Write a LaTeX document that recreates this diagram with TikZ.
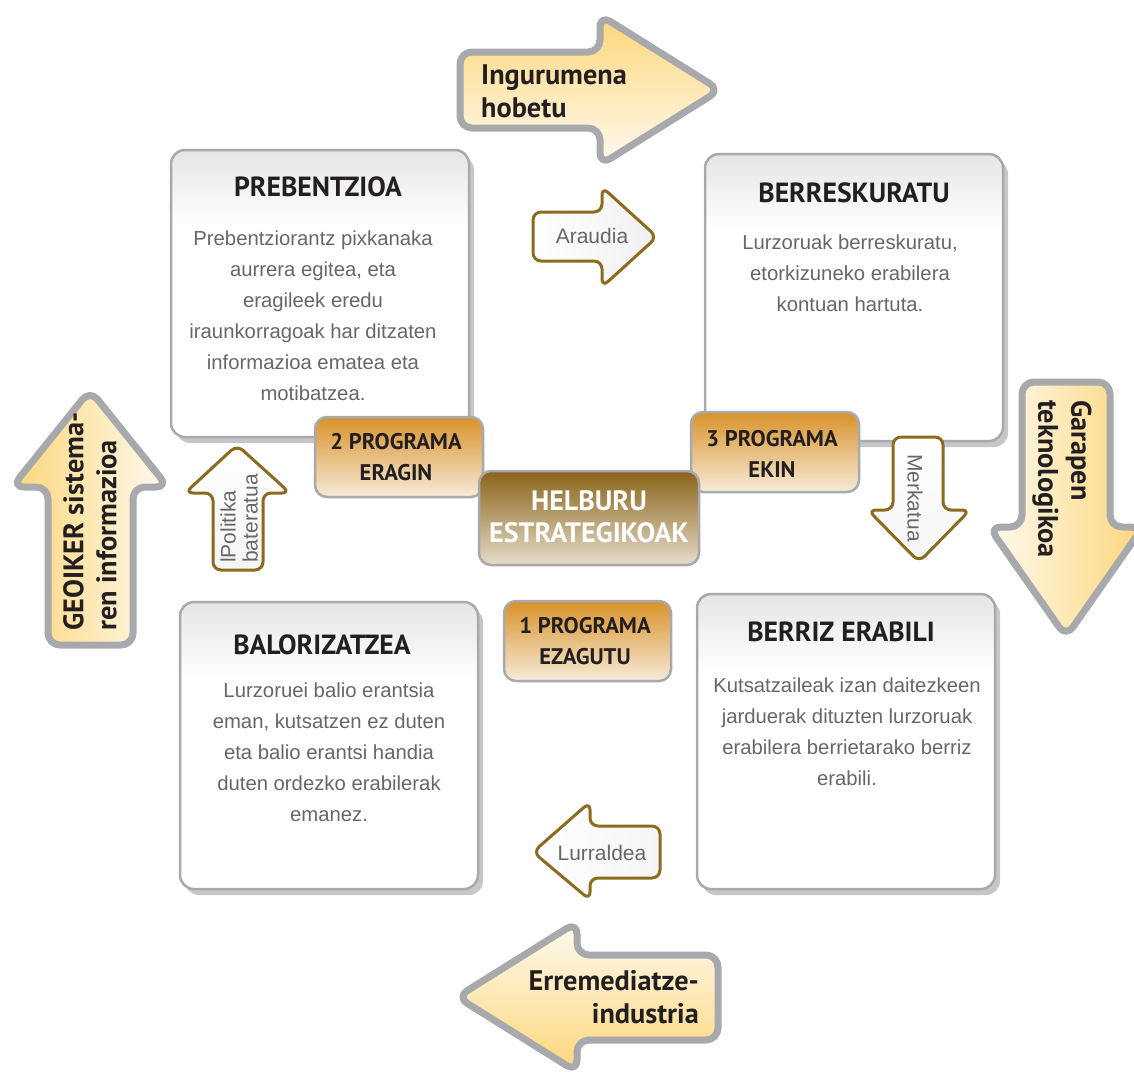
\documentclass[tikz,border=0pt]{standalone}
\usepackage{fontspec}
\setmainfont{Liberation Sans}
\newfontfamily\bfam{PT Sans}
\usetikzlibrary{shadows}
\definecolor{bordergray}{HTML}{A7A9AC}
\definecolor{titleblack}{HTML}{231F20}
\definecolor{bodygray}{HTML}{66676A}
\definecolor{goldline}{HTML}{8C6A1E}
\definecolor{orangeTop}{HTML}{D8922B}
\definecolor{orangeBot}{HTML}{F7EBD8}
\definecolor{brownTop}{HTML}{8A6318}
\definecolor{brownBot}{HTML}{E6DCCB}
\definecolor{yel}{HTML}{FCD67A}
\definecolor{yelLight}{HTML}{FFFAF0}
\definecolor{lightg}{HTML}{E4E5E6}
\pgfdeclareverticalshading{boxsh}{100bp}{color(0bp)=(white); color(25bp)=(white); color(62bp)=(white); color(75bp)=(lightg); color(100bp)=(lightg)}
\begin{document}
\begin{tikzpicture}[x=1pt,y=-1pt,
  mainbox/.style={draw=bordergray, line width=2.5pt, rounded corners=14pt, shade, shading=boxsh,
    drop shadow={shadow xshift=5pt, shadow yshift=-6pt, opacity=0.22, fill=black}},
  progbox/.style={draw=bordergray, line width=2.5pt, rounded corners=12pt, top color=orangeTop, bottom color=orangeBot},
  centbox/.style={draw=bordergray, line width=2.5pt, rounded corners=12pt, top color=brownTop, bottom color=brownBot},
  bigarrow/.style={draw=bordergray, line width=7pt, rounded corners=12pt, line join=round},
  smallarrow/.style={draw=goldline, line width=3pt, rounded corners=8pt, line join=round},
  title/.style={font=\bfam\bfseries\fontsize{27.7}{32}\selectfont, text=titleblack, inner sep=0pt},
  body/.style={font=\fontsize{20.3}{31}\selectfont, text=bodygray, align=center, inner sep=0pt},
  prog/.style={font=\bfam\bfseries\fontsize{22.6}{31}\selectfont, text=titleblack, align=center, inner sep=0pt},
  cent/.style={font=\bfam\bfseries\fontsize{28}{32}\selectfont, text=white, align=center, inner sep=0pt},
  bigtxt/.style={font=\bfam\bfseries\fontsize{28.3}{33}\selectfont, text=titleblack, inner sep=0pt},
  smalltxt/.style={font=\fontsize{21}{22}\selectfont, text=bodygray, inner sep=0pt}
]
\useasboundingbox (0,0) rectangle (1134,1071);

% main boxes
\node[mainbox, minimum width=298pt, minimum height=287pt] (prev) at (320,293.5) {};
\node[mainbox, minimum width=298pt, minimum height=287pt] (berr) at (854,297.5) {};
\node[mainbox, minimum width=298pt, minimum height=287pt] (balo) at (329,745.5) {};
\node[mainbox, minimum width=298pt, minimum height=295pt] (berz) at (846,741.5) {};

\node[title] (prevT) at (318,187) {PREBENTZIOA};
\node[body] (prevB) at (313,315.5) {Prebentziorantz pixkanaka\\aurrera egitea, eta\\eragileek eredu\\iraunkorragoak har ditzaten\\informazioa ematea eta\\motibatzea.};
\node[title] (berrT) at (854,193) {BERRESKURATU};
\node[body] (berrB) at (850,273) {Lurzoruak berreskuratu,\\etorkizuneko erabilera\\kontuan hartuta.};
\node[title] (baloT) at (322,645) {BALORIZATZEA};
\node[body] (baloB) at (329,752) {Lurzoruei balio erantsia\\eman, kutsatzen ez duten\\eta balio erantsi handia\\duten ordezko erabilerak\\emanez.};
\node[title] (berzT) at (841,632) {BERRIZ ERABILI};
\node[body] (berzB) at (847,731.5) {Kutsatzaileak izan daitezkeen\\jarduerak dituzten lurzoruak\\erabilera berrietarako berriz\\erabili.};

% program boxes
\node[progbox, minimum width=168pt, minimum height=80pt] (p2) at (399,457) {};
\node[prog] (p2t) at (396,457.5) {2 PROGRAMA\\ERAGIN};
\node[progbox, minimum width=168pt, minimum height=80pt] (p3) at (775,452) {};
\node[prog] (p3t) at (772,453.5) {3 PROGRAMA\\EKIN};
\node[progbox, minimum width=167pt, minimum height=80pt] (p1) at (587.5,641) {};
\node[prog] (p1t) at (585,641.5) {1 PROGRAMA\\EZAGUTU};
\node[centbox, minimum width=220pt, minimum height=94pt] (hel) at (589,518) {};
\node[cent] (helt) at (589,517) {HELBURU\\ESTRATEGIKOAK};

% small arrows
\draw[smallarrow, left color=white, right color=gray!12] (533,212) -- (602,212) -- (602,187) -- (657,237) -- (602,287) -- (602,261) -- (533,261) -- cycle;
\node[smalltxt] (araudia) at (592,236) {Araudia};
\draw[smallarrow, left color=white, right color=gray!8] (660,826) -- (590,826) -- (590,802) -- (533,852) -- (590,900) -- (590,878) -- (660,878) -- cycle;
\node[smalltxt] (lurraldea) at (602,853) {Lurraldea};
\draw[smallarrow, top color=white, bottom color=gray!8] (893,437) -- (943,437) -- (943,510) -- (970,510) -- (919,562) -- (868,510) -- (893,510) -- cycle;
\node[smalltxt, rotate=-90] (merkatua) at (915,498) {Merkatua};
\draw[smallarrow, top color=white, bottom color=gray!8] (213,570) -- (213,493) -- (185,493) -- (237,445) -- (290,493) -- (263,493) -- (263,570) -- cycle;
\node[smalltxt, rotate=90, anchor=west, align=left] (politika) at (239,563) {lPolitika\\bateratua};

% big arrows
\draw[bigarrow, top color=yel, bottom color=yelLight] (460,52) -- (600,52) -- (600,15) -- (720,90) -- (600,165) -- (600,128) -- (460,128) -- cycle;
\node[bigtxt, anchor=west, align=left] (ingur) at (481,91) {Ingurumena\\hobetu};

\draw[bigarrow, left color=yel, right color=yelLight] (48,645) -- (48,487) -- (12,487) -- (90,390) -- (168,487) -- (133,487) -- (133,645) -- cycle;
\node[bigtxt, rotate=90, anchor=west, align=left] (geoiker) at (90,631) {GEOIKER sistema-\\ren informazioa};

\draw[bigarrow, left color=yelLight, right color=yel] (1022,382) -- (1110,382) -- (1110,527) -- (1143,527) -- (1066,637) -- (989,527) -- (1022,527) -- cycle;
\node[bigtxt, rotate=-90, anchor=west, align=left] (garapen) at (1062,400) {Garapen\\teknologikoa};

\draw[bigarrow, top color=yelLight, bottom color=yel] (718,955) -- (577,955) -- (577,922) -- (457,997) -- (577,1072) -- (577,1040) -- (718,1040) -- cycle;
\node[bigtxt, anchor=east, align=right] (errem) at (699,997) {Erremediatze-\\industria};
\end{tikzpicture}
\end{document}
